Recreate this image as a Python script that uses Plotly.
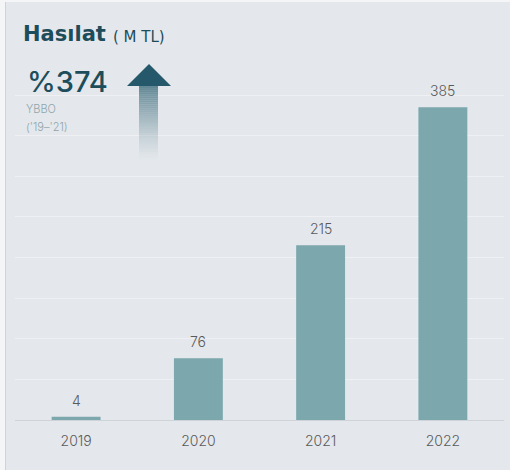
import plotly.graph_objects as go

years = ["2019", "2020", "2021", "2022"]
revenue = [4, 76, 215, 385]
value_labels = ["4", "76", "215", "385"]

title_main = "Hasılat"
title_unit = "(&nbsp;M&nbsp;TL)"
growth_text = "%374"
growth_sub1 = "YBBO"
growth_sub2 = "('19–'21)"

W, H = 510, 470
L, R, T, B = 15, 6, 54, 50
PW, PH = W - L - R, H - T - B

def xp(px):
    return (px - L) / PW

def yp(py):
    return (H - B - py) / PH

BG = "#e4e8ec"
BAR = "#7ba7ad"
DARK = "#1d4c5a"
FONT = "Inter"
TFONT = "DejaVu Sans"

fig = go.Figure()
fig.add_trace(go.Bar(x=years, y=revenue, marker=dict(color=BAR, line=dict(width=0)),
                     hoverinfo="skip"))

annotations = []
for i, (v, lab) in enumerate(zip(revenue, value_labels)):
    annotations.append(dict(x=i, y=v, xref="x", yref="y", text=lab, showarrow=False,
                            yanchor="bottom", yshift=6,
                            font=dict(family=FONT, size=14, color="#5a5a5a", weight=300)))

annotations += [
    dict(xref="paper", yref="paper", x=xp(21), y=yp(34), xanchor="left", yanchor="middle",
         text=title_main, showarrow=False,
         font=dict(family=TFONT, size=21, color=DARK, weight=700)),
    dict(xref="paper", yref="paper", x=xp(111), y=yp(37), xanchor="left", yanchor="middle",
         text=title_unit, showarrow=False,
         font=dict(family=TFONT, size=15, color=DARK, weight=400)),
    dict(xref="paper", yref="paper", x=xp(25), y=yp(82), xanchor="left", yanchor="middle",
         text=growth_text, showarrow=False,
         font=dict(family=FONT, size=29, color=DARK, weight=500)),
    dict(xref="paper", yref="paper", x=xp(24), y=yp(108.5), xanchor="left", yanchor="middle",
         text=growth_sub1, showarrow=False,
         font=dict(family=FONT, size=11, color="#8ea5ab", weight=300)),
    dict(xref="paper", yref="paper", x=xp(24), y=yp(126.5), xanchor="left", yanchor="middle",
         text=growth_sub2, showarrow=False,
         font=dict(family=FONT, size=11, color="#8ea5ab", weight=300)),
]

shapes = []
shapes.append(dict(type="rect", xref="paper", yref="paper", x0=xp(0), x1=xp(5), y0=yp(H), y1=yp(0),
                   fillcolor="#f3f5f7", line=dict(width=0), layer="below"))
shapes.append(dict(type="rect", xref="paper", yref="paper", x0=xp(0), x1=xp(W), y0=yp(2), y1=yp(0),
                   fillcolor="#f3f5f7", line=dict(width=0), layer="below"))
shapes.append(dict(type="line", xref="paper", yref="paper", x0=xp(5.5), x1=xp(5.5), y0=yp(H), y1=yp(2),
                   line=dict(color="#cdd3d9", width=1)))

tip_x, tip_y = 149, 64
shapes.append(dict(type="path", xref="paper", yref="paper",
                   path=f"M {xp(127)} {yp(86)} L {xp(tip_x)} {yp(tip_y)} L {xp(171)} {yp(86)} Z",
                   fillcolor="#24586a", line=dict(width=0)))
n = 36
top, bot = 86, 160
for i in range(n):
    y0 = top + (bot - top) * i / n
    y1 = top + (bot - top) * (i + 1) / n
    op = max(0.0, 0.7 * (1 - i / n) ** 1.3)
    shapes.append(dict(type="rect", xref="paper", yref="paper", x0=xp(139), x1=xp(158),
                       y0=yp(y1), y1=yp(y0), fillcolor="#2c5f70", opacity=op,
                       line=dict(width=0)))

fig.update_layout(
    width=W, height=H,
    margin=dict(l=L, r=R, t=T, b=B, autoexpand=False),
    paper_bgcolor=BG, plot_bgcolor=BG,
    bargap=0.6,
    showlegend=False,
    annotations=annotations,
    shapes=shapes,
    xaxis=dict(type="category", range=[-0.5, len(years) - 0.5], showline=True,
               linecolor="#cdd3d9", linewidth=1, ticks="",
               showgrid=False, automargin=False,
               tickfont=dict(family=FONT, size=14, color="#5a5a5a", weight=300),
               ticklabelstandoff=8, fixedrange=True),
    yaxis=dict(range=[0, 450.5], dtick=50, showticklabels=False, gridcolor="#eef0f3",
               gridwidth=1, zeroline=False, showline=False, fixedrange=True, automargin=False),
)

fig.write_html("out.html", config={"displayModeBar": False},
               post_script="document.body.style.margin='0';document.body.style.overflow='hidden';")
